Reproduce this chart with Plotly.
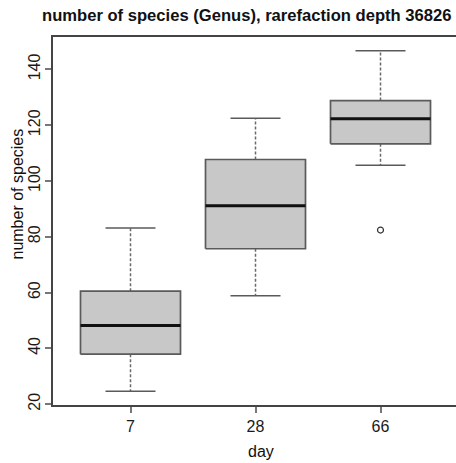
import plotly.graph_objects as go

days = ["7", "28", "66"]
positions = [1, 2, 3]
lower_whisker = [24.6, 58.9, 105.6]
q1 = [37.9, 75.7, 113.3]
median = [48.2, 91.1, 122.3]
q3 = [60.5, 107.7, 128.8]
upper_whisker = [83.1, 122.5, 146.7]
outlier_day_pos = [3]
outlier_values = [82.4]

BOX_HALF = 0.4
CAP_HALF = 0.2
FILL = "#c8c8c8"
EDGE = "#5a5a5a"
WHISK = "#6a6a6a"

fig = go.Figure()

for i, p in enumerate(positions):
    # whiskers (dashed)
    fig.add_trace(go.Scatter(x=[p, p, None, p, p],
                             y=[q3[i], upper_whisker[i], None, q1[i], lower_whisker[i]],
                             mode="lines", line=dict(color=WHISK, width=1.5, dash="3px,2px"),
                             hoverinfo="skip", showlegend=False))
    # caps
    fig.add_trace(go.Scatter(x=[p - CAP_HALF, p + CAP_HALF, None, p - CAP_HALF, p + CAP_HALF],
                             y=[upper_whisker[i], upper_whisker[i], None, lower_whisker[i], lower_whisker[i]],
                             mode="lines", line=dict(color=EDGE, width=1.5),
                             hoverinfo="skip", showlegend=False))
    # box
    fig.add_trace(go.Scatter(x=[p - BOX_HALF, p + BOX_HALF, p + BOX_HALF, p - BOX_HALF, p - BOX_HALF],
                             y=[q1[i], q1[i], q3[i], q3[i], q1[i]],
                             mode="lines", fill="toself", fillcolor=FILL,
                             line=dict(color=EDGE, width=1.7),
                             hoverinfo="skip", showlegend=False))
    # median
    fig.add_trace(go.Scatter(x=[p - BOX_HALF, p + BOX_HALF], y=[median[i], median[i]],
                             mode="lines", line=dict(color="#111111", width=3),
                             hoverinfo="skip", showlegend=False))

fig.add_trace(go.Scatter(x=outlier_day_pos, y=outlier_values, mode="markers",
                         marker=dict(symbol="circle-open", size=6, color="#333333", line=dict(width=1.2)),
                         hoverinfo="skip", showlegend=False))

L, T, B = 53, 37, 405
W, H = 456, 463
pw, ph = W - L, B - T

def px(x):
    return (x - L) / pw

def py(y):
    return (B - y) / ph

font_family = "Liberation Sans, Arial, Helvetica, sans-serif"

fig.update_layout(
    width=W, height=H,
    margin=dict(l=L, r=0, t=T, b=H - B, pad=0),
    paper_bgcolor="white", plot_bgcolor="white",
    font=dict(family=font_family, size=16, color="#1a1a1a"),
    xaxis=dict(range=[0.38, 3.604], tickmode="array", tickvals=positions, ticktext=days,
               showgrid=False, zeroline=False, showline=True, mirror=True,
               linecolor="#444444", linewidth=1.5, ticks="outside", ticklen=6,
               tickcolor="#777777", tickwidth=1.5, tickfont=dict(size=16)),
    yaxis=dict(range=[19.7, 151.6], tickmode="array", tickvals=[20, 40, 60, 80, 100, 120, 140],
               showgrid=False, zeroline=False, showline=True, mirror=False,
               linecolor="#444444", linewidth=1.5, ticks="outside", ticklen=6,
               tickcolor="#777777", tickwidth=1.5, tickangle=-90, tickfont=dict(size=16),
               ticklabelstandoff=-1),
    annotations=[
        dict(text="<b>number of species (Genus), rarefaction depth 36826</b>", x=px(246), y=py(15),
             xref="paper", yref="paper", showarrow=False, xanchor="center", yanchor="middle",
             font=dict(size=16.6, color="#111111")),
        dict(text="number of species", x=px(17), y=py(194.5), xref="paper", yref="paper",
             showarrow=False, textangle=-90, xanchor="center", yanchor="middle",
             font=dict(size=16, color="#111111")),
        dict(text="day", x=px(261), y=py(451.7), xref="paper", yref="paper",
             showarrow=False, xanchor="center", yanchor="middle",
             font=dict(size=16, color="#111111")),
    ],
)

fig.write_html("out.html")
